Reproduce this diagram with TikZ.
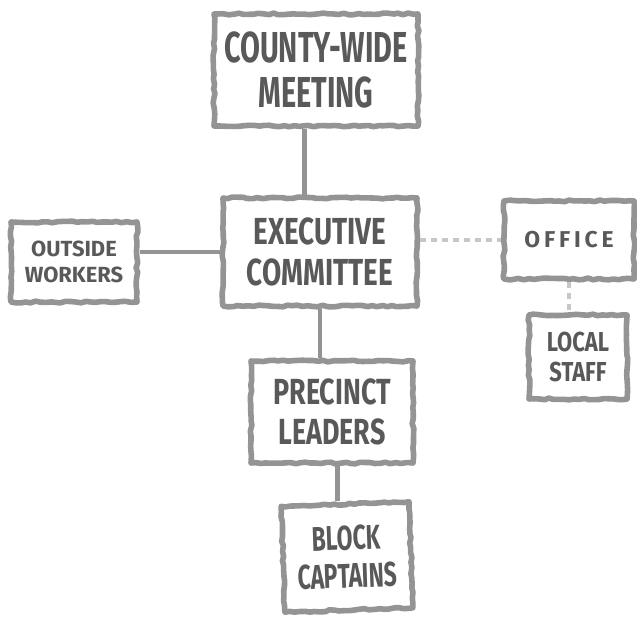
\documentclass[tikz,border=0pt]{standalone}
\usepackage{fontspec}
\setmainfont{Fira Sans}
\usepackage{graphicx}
\usetikzlibrary{decorations.pathmorphing}

% stretch a line of lettering upwards
\newcommand{\tallrow}[2][1.4]{\scalebox{1}[#1]{#2}}

\begin{document}
\begin{tikzpicture}[x=0.5bp,y=-0.5bp,
    crayon/.style={draw=black!42,line width=2.8bp,line join=round},
    box/.style={crayon,decorate,decoration={random steps,segment length=2.5pt,amplitude=0.45pt},
        inner sep=0pt,align=center,text=black!65,font=\bfseries},
    faint/.style={draw=black!22,line width=1.6bp,dash pattern=on 3pt off 2.5pt}]
    \pgfmathsetseed{11}
    \useasboundingbox (0,0) rectangle (637,619);

    \node (county) [box,minimum width=102bp,minimum height=56bp,
        font=\bfseries\fontsize{14.5}{23}\selectfont] at (316,70)
        {\tallrow[1.5]{COUNTY-WIDE}\\\tallrow[1.5]{MEETING}};
    \node (exec) [box,minimum width=97bp,minimum height=54bp,
        font=\bfseries\fontsize{14}{21}\selectfont] at (320,252)
        {\tallrow[1.35]{EXECUTIVE}\\\tallrow[1.35]{COMMITTEE}};
    \node (outside) [box,minimum width=63bp,minimum height=40bp,
        font=\bfseries\fontsize{11}{13}\selectfont] at (74,262)
        {OUTSIDE\\WORKERS};
    \node (office) [box,minimum width=65bp,minimum height=39bp,
        font=\bfseries\fontsize{11.5}{13}\selectfont] at (569,240)
        {O\,F\,F\,I\,C\,E};
    \node (local) [box,minimum width=49bp,minimum height=42bp,
        font=\bfseries\fontsize{11}{15}\selectfont] at (578,357)
        {\tallrow[1.25]{LOCAL}\\\tallrow[1.25]{STAFF}};
    \node (precinct) [box,minimum width=81bp,minimum height=51bp,
        font=\bfseries\fontsize{13.5}{20}\selectfont] at (332,412)
        {\tallrow[1.35]{PRECINCT}\\\tallrow[1.35]{LEADERS}};
    \node (block) [box,rotate=2,minimum width=64bp,minimum height=53bp,
        font=\bfseries\fontsize{11.5}{19}\selectfont] at (347,557)
        {\tallrow[1.5]{BLOCK}\\\tallrow[1.5]{CAPTAINS}};

    % straight ties between the boxes
    \draw[crayon,line width=2.2bp]
    (county.-101)   edge (county.-101 |- exec.north)
    (exec.west)     edge (exec.west -| outside.east)
    (exec.south)    edge (exec.south |- precinct.north)
    (precinct.-84)  edge (precinct.-84 |- block.north);

    % loose ties to the office
    \draw[faint]
    (office.west -| exec.east) edge (office.west)
    (office.south)  edge (office.south |- local.north);
\end{tikzpicture}
\end{document}
